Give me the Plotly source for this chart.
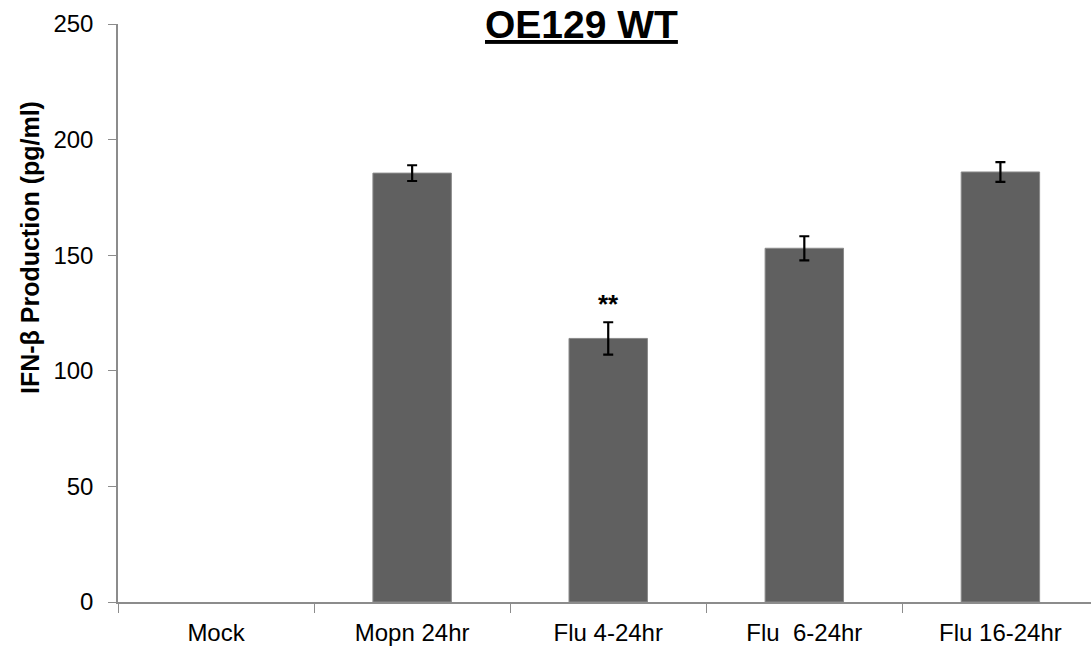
import plotly.graph_objects as go

# IFN-beta production per treatment group (pg/ml), mean and error
categories = ["Mock", "Mopn 24hr", "Flu 4-24hr", "Flu\u00a0\u00a06-24hr", "Flu 16-24hr"]
values = [0, 185.5, 114, 153, 186]
errors = [0, 3.4, 7, 5.2, 4.3]
y_ticks = [0, 50, 100, 150, 200, 250]
significance = {"Flu 4-24hr": ("**", 129)}

FONT = "Liberation Sans, Arial, sans-serif"
AXIS_GREY = "#8c8c8c"

fig = go.Figure()
fig.add_trace(go.Bar(
    x=categories,
    y=values,
    width=0.4,
    marker=dict(color="#606060",
                line=dict(color="#8a8a8a", width=[0 if v == 0 else 1 for v in values])),
    showlegend=False,
))

# Error bars only for groups with a measured spread
with_err = [i for i, e in enumerate(errors) if e > 0]
fig.add_trace(go.Scatter(
    x=[categories[i] for i in with_err],
    y=[values[i] for i in with_err],
    mode="markers",
    marker=dict(size=0.1, color="rgba(0,0,0,0)"),
    error_y=dict(type="data", array=[errors[i] for i in with_err], visible=True,
                 color="black", thickness=2.2, width=5),
    showlegend=False, hoverinfo="skip",
))

for cat, (label, yv) in significance.items():
    fig.add_annotation(x=cat, y=yv, xref="x", yref="y", text=f"<b>{label}</b>",
                       showarrow=False, font=dict(family=FONT, size=26, color="black"),
                       yanchor="middle")

# Title (bold, underlined)
fig.add_annotation(x=0.476, y=1.0, xref="paper", yref="paper",
                   text="<b><u>OE129 WT</u></b>", showarrow=False,
                   font=dict(family=FONT, size=39, color="black"),
                   xanchor="center", yanchor="middle")

# Y axis title
fig.add_annotation(x=-0.0905, y=0.614, xref="paper", yref="paper",
                   text="<b>IFN-β Production (pg/ml)</b>", showarrow=False,
                   textangle=-90, font=dict(family=FONT, size=25, color="black"),
                   xanchor="center", yanchor="middle")

fig.update_layout(
    width=1091, height=649,
    margin=dict(l=118, r=0, t=24, b=47),
    paper_bgcolor="white", plot_bgcolor="white",
    font=dict(family=FONT, size=24, color="black"),
    bargap=0.6,
)
fig.update_xaxes(
    range=[-0.5, 4.462],
    showline=True, linecolor=AXIS_GREY, linewidth=1.5,
    ticks="outside", tickson="boundaries", ticklen=9, tickcolor=AXIS_GREY, tickwidth=1,
    tickfont=dict(family=FONT, size=24, color="black"),
    ticklabelstandoff=8,
    showgrid=False, zeroline=False,
)
fig.update_yaxes(
    range=[0, 250], tickvals=y_ticks,
    showline=True, linecolor=AXIS_GREY, linewidth=1.5,
    ticks="outside", ticklen=8, tickcolor=AXIS_GREY, tickwidth=1,
    tickfont=dict(family=FONT, size=24, color="black"),
    ticklabelstandoff=10,
    showgrid=False, zeroline=False,
)

fig.write_html("out.html")
